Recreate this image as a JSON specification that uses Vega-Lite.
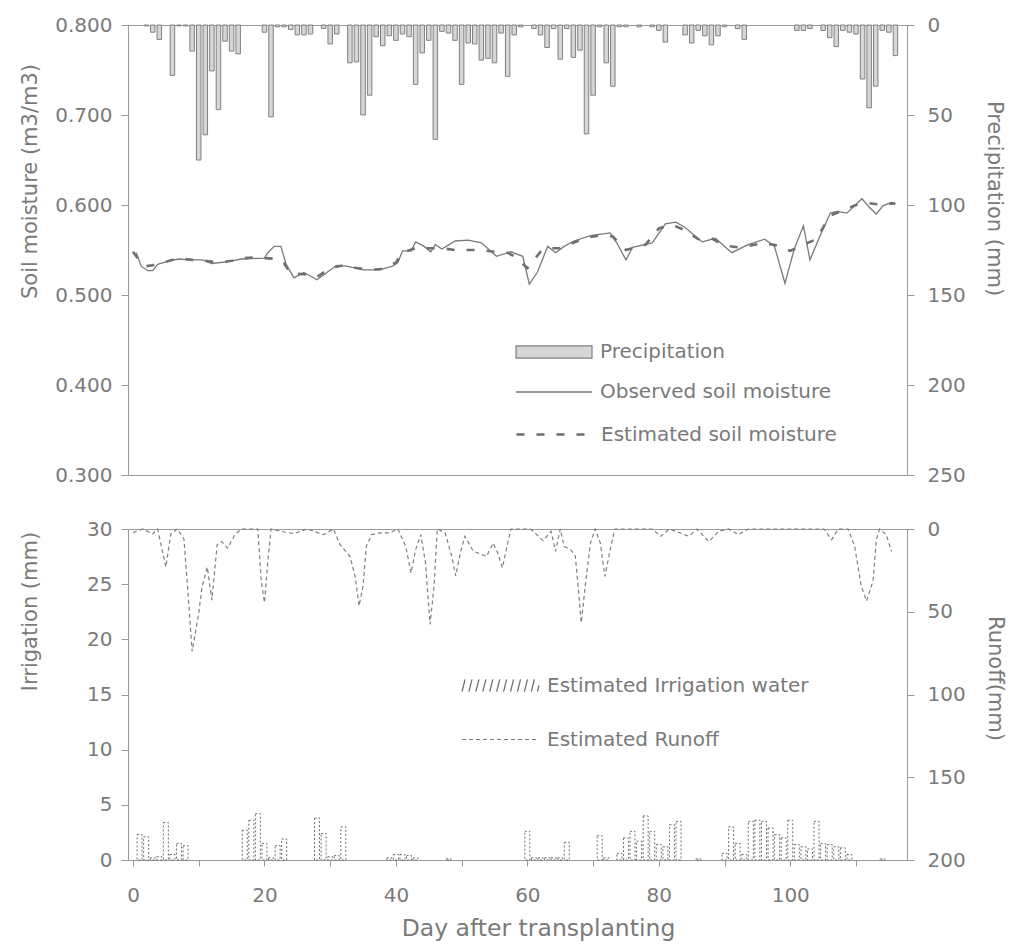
{
  "$schema": "https://vega.github.io/schema/vega-lite/v6.json",
  "background": "white",
  "padding": {"left": 18, "top": 14, "right": 5, "bottom": 5},
  "bounds": "flush",
  "spacing": 54,
  "config": {
    "font": "DejaVu Sans",
    "view": {"stroke": "#9a9a9a", "strokeWidth": 1},
    "axis": {"domainColor": "#9a9a9a", "tickColor": "#9a9a9a", "labelColor": "#7a7a7a", "titleColor": "#7a7a7a", "labelFont": "DejaVu Sans", "titleFont": "DejaVu Sans", "labelFontSize": 20, "titleFontSize": 21, "titleFontWeight": "normal", "grid": false, "tickSize": 7},
    "axisLeft": {"labelPadding": 9},
    "axisRight": {"labelPadding": 13},
    "axisBottom": {"labelPadding": 19, "tickSize": 6},
    "legend": {"orient": "none", "padding": 0, "labelFont": "DejaVu Sans", "labelFontSize": 20, "labelColor": "#7a7a7a", "labelOffset": 7, "labelLimit": 400, "title": null}
  },
  "resolve": {"scale": {"fill": "independent", "stroke": "independent", "strokeDash": "independent"}, "legend": {"fill": "independent", "stroke": "independent", "strokeDash": "independent"}},
  "datasets": {
    "precip": [
      {"day": 2, "mm": 0.5}, {"day": 3, "mm": 4}, {"day": 4, "mm": 8}, {"day": 6, "mm": 28}, {"day": 7, "mm": 0.5}, {"day": 8, "mm": 0.5}, {"day": 9, "mm": 14.5}, {"day": 10, "mm": 75}, {"day": 11, "mm": 61}, {"day": 12, "mm": 25.5}, {"day": 13, "mm": 47}, {"day": 14, "mm": 9}, {"day": 15, "mm": 14.5}, {"day": 16, "mm": 16},
      {"day": 20, "mm": 4}, {"day": 21, "mm": 51}, {"day": 22, "mm": 1}, {"day": 23, "mm": 1}, {"day": 24, "mm": 2.5}, {"day": 25, "mm": 5.5}, {"day": 26, "mm": 5.5}, {"day": 27, "mm": 5}, {"day": 29, "mm": 2}, {"day": 30, "mm": 10.5}, {"day": 31, "mm": 5},
      {"day": 33, "mm": 21}, {"day": 34, "mm": 20.5}, {"day": 35, "mm": 50}, {"day": 36, "mm": 39}, {"day": 37, "mm": 6.5}, {"day": 38, "mm": 11.5}, {"day": 39, "mm": 6}, {"day": 40, "mm": 8.5}, {"day": 41, "mm": 5}, {"day": 42, "mm": 6.5}, {"day": 43, "mm": 33}, {"day": 44, "mm": 15.5}, {"day": 45, "mm": 8.5}, {"day": 46, "mm": 63.5}, {"day": 47, "mm": 3.5}, {"day": 48, "mm": 4.5}, {"day": 49, "mm": 8.5}, {"day": 50, "mm": 33}, {"day": 51, "mm": 10}, {"day": 52, "mm": 10.5}, {"day": 53, "mm": 19.5}, {"day": 54, "mm": 18.5}, {"day": 55, "mm": 21}, {"day": 56, "mm": 4.5}, {"day": 57, "mm": 28.5}, {"day": 58, "mm": 5.5}, {"day": 59, "mm": 1},
      {"day": 61, "mm": 2}, {"day": 62, "mm": 5.5}, {"day": 63, "mm": 12.5}, {"day": 64, "mm": 2}, {"day": 65, "mm": 19}, {"day": 66, "mm": 2}, {"day": 67, "mm": 18}, {"day": 68, "mm": 14}, {"day": 69, "mm": 60.5}, {"day": 70, "mm": 39}, {"day": 71, "mm": 1}, {"day": 72, "mm": 21}, {"day": 73, "mm": 34}, {"day": 74, "mm": 1}, {"day": 75, "mm": 1}, {"day": 77, "mm": 1}, {"day": 79, "mm": 1}, {"day": 80, "mm": 3}, {"day": 81, "mm": 9.5},
      {"day": 84, "mm": 5.5}, {"day": 85, "mm": 10}, {"day": 86, "mm": 3}, {"day": 87, "mm": 6}, {"day": 88, "mm": 11}, {"day": 89, "mm": 6}, {"day": 90, "mm": 1}, {"day": 92, "mm": 2}, {"day": 93, "mm": 8},
      {"day": 101, "mm": 3}, {"day": 102, "mm": 3}, {"day": 103, "mm": 2}, {"day": 105, "mm": 3}, {"day": 106, "mm": 7}, {"day": 107, "mm": 12}, {"day": 108, "mm": 3}, {"day": 109, "mm": 4}, {"day": 110, "mm": 5}, {"day": 111, "mm": 30}, {"day": 112, "mm": 46}, {"day": 113, "mm": 34}, {"day": 114, "mm": 3}, {"day": 115, "mm": 4}, {"day": 116, "mm": 17}
    ],
    "obs": [
      {"day": 0.5, "sm": 0.547}, {"day": 1.25, "sm": 0.532}, {"day": 2.25, "sm": 0.527}, {"day": 3, "sm": 0.527}, {"day": 3.75, "sm": 0.534}, {"day": 5.5, "sm": 0.538}, {"day": 7, "sm": 0.54}, {"day": 8.5, "sm": 0.539}, {"day": 10.5, "sm": 0.539}, {"day": 12, "sm": 0.535}, {"day": 14.5, "sm": 0.537}, {"day": 16.5, "sm": 0.54}, {"day": 20, "sm": 0.541}, {"day": 20.5, "sm": 0.547}, {"day": 21.5, "sm": 0.554}, {"day": 22.5, "sm": 0.554}, {"day": 23.3, "sm": 0.534}, {"day": 24.5, "sm": 0.519}, {"day": 26, "sm": 0.525}, {"day": 28, "sm": 0.517}, {"day": 29.5, "sm": 0.525}, {"day": 31, "sm": 0.533}, {"day": 32.5, "sm": 0.532}, {"day": 35, "sm": 0.528}, {"day": 37.5, "sm": 0.528}, {"day": 39.5, "sm": 0.532}, {"day": 40.3, "sm": 0.536}, {"day": 41, "sm": 0.549}, {"day": 42.3, "sm": 0.549}, {"day": 43, "sm": 0.559}, {"day": 44.3, "sm": 0.554}, {"day": 45.3, "sm": 0.548}, {"day": 46, "sm": 0.556}, {"day": 47, "sm": 0.551}, {"day": 49, "sm": 0.56}, {"day": 51, "sm": 0.561}, {"day": 53, "sm": 0.558}, {"day": 55.3, "sm": 0.543}, {"day": 57.5, "sm": 0.548}, {"day": 59.3, "sm": 0.543}, {"day": 60.3, "sm": 0.512}, {"day": 61.5, "sm": 0.525}, {"day": 63.1, "sm": 0.554}, {"day": 64.3, "sm": 0.547}, {"day": 65.6, "sm": 0.554}, {"day": 67.1, "sm": 0.56}, {"day": 69.6, "sm": 0.566}, {"day": 72.6, "sm": 0.569}, {"day": 73.6, "sm": 0.558}, {"day": 75, "sm": 0.539}, {"day": 76, "sm": 0.553}, {"day": 79, "sm": 0.558}, {"day": 81, "sm": 0.579}, {"day": 82.6, "sm": 0.581}, {"day": 84, "sm": 0.575}, {"day": 86.6, "sm": 0.559}, {"day": 88.6, "sm": 0.563}, {"day": 91.1, "sm": 0.547}, {"day": 93.6, "sm": 0.556}, {"day": 96.1, "sm": 0.562}, {"day": 97.6, "sm": 0.554}, {"day": 99.2, "sm": 0.513}, {"day": 100.6, "sm": 0.551}, {"day": 102, "sm": 0.577}, {"day": 103, "sm": 0.539}, {"day": 104.6, "sm": 0.567}, {"day": 106.1, "sm": 0.591}, {"day": 107.1, "sm": 0.593}, {"day": 108.6, "sm": 0.591}, {"day": 110.9, "sm": 0.607}, {"day": 112.1, "sm": 0.597}, {"day": 113.1, "sm": 0.59}, {"day": 114.1, "sm": 0.599}, {"day": 115.4, "sm": 0.603}, {"day": 115.9, "sm": 0.6}
    ],
    "est": [
      {"day": 0, "sm": 0.548}, {"day": 1, "sm": 0.538}, {"day": 2, "sm": 0.532}, {"day": 3, "sm": 0.533}, {"day": 5, "sm": 0.537}, {"day": 7, "sm": 0.541}, {"day": 9, "sm": 0.539}, {"day": 11, "sm": 0.538}, {"day": 13, "sm": 0.536}, {"day": 15, "sm": 0.538}, {"day": 17, "sm": 0.541}, {"day": 19, "sm": 0.542}, {"day": 20, "sm": 0.541}, {"day": 22, "sm": 0.54}, {"day": 23, "sm": 0.535}, {"day": 24, "sm": 0.524}, {"day": 26, "sm": 0.523}, {"day": 28, "sm": 0.52}, {"day": 30, "sm": 0.53}, {"day": 32, "sm": 0.533}, {"day": 34, "sm": 0.53}, {"day": 36, "sm": 0.528}, {"day": 38, "sm": 0.529}, {"day": 40, "sm": 0.536}, {"day": 41, "sm": 0.547}, {"day": 43, "sm": 0.552}, {"day": 45, "sm": 0.552}, {"day": 47, "sm": 0.552}, {"day": 49, "sm": 0.55}, {"day": 51, "sm": 0.55}, {"day": 53, "sm": 0.55}, {"day": 55, "sm": 0.548}, {"day": 57, "sm": 0.547}, {"day": 58, "sm": 0.543}, {"day": 60, "sm": 0.53}, {"day": 62, "sm": 0.548}, {"day": 63, "sm": 0.552}, {"day": 65, "sm": 0.552}, {"day": 67, "sm": 0.558}, {"day": 69, "sm": 0.564}, {"day": 71, "sm": 0.566}, {"day": 73, "sm": 0.565}, {"day": 75, "sm": 0.55}, {"day": 76, "sm": 0.552}, {"day": 78, "sm": 0.556}, {"day": 80, "sm": 0.574}, {"day": 82, "sm": 0.578}, {"day": 84, "sm": 0.572}, {"day": 86, "sm": 0.562}, {"day": 88, "sm": 0.563}, {"day": 90, "sm": 0.555}, {"day": 92, "sm": 0.553}, {"day": 94, "sm": 0.555}, {"day": 96, "sm": 0.558}, {"day": 98, "sm": 0.555}, {"day": 100, "sm": 0.549}, {"day": 102, "sm": 0.556}, {"day": 104, "sm": 0.562}, {"day": 106, "sm": 0.588}, {"day": 108, "sm": 0.594}, {"day": 110, "sm": 0.6}, {"day": 112, "sm": 0.602}, {"day": 114, "sm": 0.6}, {"day": 116, "sm": 0.602}
    ],
    "irr": [
      {"day": 1, "mm": 2.3}, {"day": 2, "mm": 2.1}, {"day": 3, "mm": 0.2}, {"day": 4, "mm": 0.3}, {"day": 5, "mm": 3.4}, {"day": 6, "mm": 0.5}, {"day": 7, "mm": 1.5}, {"day": 8, "mm": 1.3},
      {"day": 17, "mm": 2.7}, {"day": 18, "mm": 3.6}, {"day": 19, "mm": 4.2}, {"day": 20, "mm": 1.5}, {"day": 21, "mm": 0.2}, {"day": 22, "mm": 1.3}, {"day": 23, "mm": 1.9},
      {"day": 28, "mm": 3.8}, {"day": 29, "mm": 2.4}, {"day": 30, "mm": 0.3}, {"day": 31, "mm": 0.4}, {"day": 32, "mm": 3.0},
      {"day": 39, "mm": 0.2}, {"day": 40, "mm": 0.5}, {"day": 41, "mm": 0.5}, {"day": 42, "mm": 0.4}, {"day": 43, "mm": 0.2}, {"day": 48, "mm": 0.1},
      {"day": 60, "mm": 2.6}, {"day": 61, "mm": 0.2}, {"day": 62, "mm": 0.2}, {"day": 63, "mm": 0.2}, {"day": 64, "mm": 0.2}, {"day": 65, "mm": 0.2}, {"day": 66, "mm": 1.6}, {"day": 71, "mm": 2.2}, {"day": 72, "mm": 0.2},
      {"day": 74, "mm": 0.6}, {"day": 75, "mm": 2.0}, {"day": 76, "mm": 2.6}, {"day": 77, "mm": 1.7}, {"day": 78, "mm": 4.0}, {"day": 79, "mm": 2.6}, {"day": 80, "mm": 1.4}, {"day": 81, "mm": 1.2}, {"day": 82, "mm": 3.2}, {"day": 83, "mm": 3.5}, {"day": 86, "mm": 0.1},
      {"day": 90, "mm": 0.6}, {"day": 91, "mm": 3.0}, {"day": 92, "mm": 1.5}, {"day": 93, "mm": 0.5}, {"day": 94, "mm": 3.5}, {"day": 95, "mm": 3.6}, {"day": 96, "mm": 3.5}, {"day": 97, "mm": 2.9}, {"day": 98, "mm": 2.3}, {"day": 99, "mm": 2.0}, {"day": 100, "mm": 3.6}, {"day": 101, "mm": 1.4}, {"day": 102, "mm": 1.2}, {"day": 103, "mm": 1.0}, {"day": 104, "mm": 3.5}, {"day": 105, "mm": 1.5}, {"day": 106, "mm": 1.4}, {"day": 107, "mm": 1.2}, {"day": 108, "mm": 1.1}, {"day": 109, "mm": 0.5}, {"day": 114, "mm": 0.1}
    ],
    "runoff": [
      {"day": 0, "mm": 2}, {"day": 1.5, "mm": 0}, {"day": 3, "mm": 3}, {"day": 3.75, "mm": 0}, {"day": 5, "mm": 23}, {"day": 5.75, "mm": 3}, {"day": 6.75, "mm": 0}, {"day": 7.75, "mm": 6}, {"day": 8.3, "mm": 35}, {"day": 9, "mm": 74}, {"day": 10, "mm": 51}, {"day": 10.5, "mm": 35}, {"day": 11.3, "mm": 23}, {"day": 12, "mm": 43}, {"day": 12.8, "mm": 9.5}, {"day": 13.5, "mm": 7.6}, {"day": 14.4, "mm": 11.6}, {"day": 15.5, "mm": 3.4}, {"day": 16.5, "mm": 0},
      {"day": 19, "mm": 0}, {"day": 19.5, "mm": 31}, {"day": 20, "mm": 44.5}, {"day": 20.5, "mm": 20.5}, {"day": 21, "mm": 0}, {"day": 22.5, "mm": 1.4}, {"day": 24.5, "mm": 2.8}, {"day": 26.5, "mm": 0}, {"day": 29, "mm": 3.4}, {"day": 30.5, "mm": 0}, {"day": 31.5, "mm": 9.5}, {"day": 33, "mm": 16.5}, {"day": 33.8, "mm": 28.6}, {"day": 34.4, "mm": 46.5}, {"day": 35, "mm": 34.6}, {"day": 35.5, "mm": 10.5}, {"day": 36.3, "mm": 3.4}, {"day": 37.5, "mm": 2.4}, {"day": 39, "mm": 2.4}, {"day": 40.3, "mm": 0},
      {"day": 41.5, "mm": 10.5}, {"day": 42.3, "mm": 26.6}, {"day": 43, "mm": 12.5}, {"day": 43.8, "mm": 3.4}, {"day": 44.5, "mm": 20.5}, {"day": 45.2, "mm": 57.6}, {"day": 45.8, "mm": 34.6}, {"day": 46.3, "mm": 0}, {"day": 47.5, "mm": 2.4}, {"day": 48.5, "mm": 16.5}, {"day": 49.1, "mm": 28.4}, {"day": 49.8, "mm": 14.5}, {"day": 50.5, "mm": 4.4}, {"day": 51.8, "mm": 13.5}, {"day": 52.5, "mm": 14.5}, {"day": 53.8, "mm": 16.5}, {"day": 54.8, "mm": 8.5}, {"day": 55.5, "mm": 14.5}, {"day": 56.2, "mm": 23.4}, {"day": 56.8, "mm": 12.5}, {"day": 57.5, "mm": 0},
      {"day": 60.5, "mm": 0}, {"day": 62.4, "mm": 7}, {"day": 63.6, "mm": 1.4}, {"day": 64.3, "mm": 13.5}, {"day": 65, "mm": 0}, {"day": 65.6, "mm": 10.5}, {"day": 66.6, "mm": 12.5}, {"day": 67.3, "mm": 16.5}, {"day": 67.8, "mm": 38.5}, {"day": 68.2, "mm": 56.6}, {"day": 68.8, "mm": 34.6}, {"day": 69.6, "mm": 8.5}, {"day": 70.3, "mm": 0}, {"day": 71.1, "mm": 8.5}, {"day": 71.8, "mm": 28.6}, {"day": 72.6, "mm": 12.5}, {"day": 73.3, "mm": 0},
      {"day": 79, "mm": 0}, {"day": 80.3, "mm": 4.4}, {"day": 81.6, "mm": 0}, {"day": 84.6, "mm": 4.4}, {"day": 85.8, "mm": 0}, {"day": 87.6, "mm": 7.6}, {"day": 89.1, "mm": 1.4}, {"day": 90.6, "mm": 0}, {"day": 92.1, "mm": 3.4}, {"day": 93.6, "mm": 0}, {"day": 105.1, "mm": 0}, {"day": 106.3, "mm": 6.4}, {"day": 107.3, "mm": 0}, {"day": 108.8, "mm": 0}, {"day": 109.8, "mm": 10.5}, {"day": 110.8, "mm": 34.6}, {"day": 111.6, "mm": 43.5}, {"day": 112.6, "mm": 31.4}, {"day": 113.1, "mm": 6.4}, {"day": 113.6, "mm": 0}, {"day": 114.6, "mm": 3.4}, {"day": 115.4, "mm": 13.5}
    ]
  },
  "vconcat": [
    {
      "width": 779,
      "height": 450,
      "layer": [
        {
          "data": {"name": "precip"},
          "mark": {"type": "bar", "size": 4.5, "stroke": "#808080", "strokeWidth": 1},
          "encoding": {
            "x": {"field": "day", "type": "quantitative", "scale": {"domain": [0, 117], "nice": false}, "axis": null},
            "y": {"field": "mm", "type": "quantitative", "scale": {"domain": [0, 250], "reverse": true, "nice": false}, "axis": {"orient": "right", "values": [0, 50, 100, 150, 200, 250], "title": "Precipitation (mm)", "labelPadding": 13, "titleX": 76, "titleY": 173}},
            "fill": {"datum": "Precipitation", "scale": {"range": ["#d6d6d6"]}, "legend": {"legendX": 387, "legendY": 288, "symbolType": "M-1,-0.16H1V0.16H-1Z", "symbolSize": 5776, "symbolStrokeColor": "#808080", "symbolStrokeWidth": 1.2}}
          }
        },
        {
          "layer": [
            {
              "data": {"name": "obs"},
              "mark": {"type": "line", "strokeWidth": 1.3},
              "encoding": {
                "x": {"field": "day", "type": "quantitative"},
                "y": {"field": "sm", "type": "quantitative", "scale": {"domain": [0.3, 0.8], "nice": false, "zero": false}, "axis": {"orient": "left", "values": [0.3, 0.4, 0.5, 0.6, 0.7, 0.8], "format": ".3f", "title": "Soil moisture (m3/m3)", "labelPadding": 9, "titleX": -88, "titleY": 156}},
                "stroke": {"datum": "Observed soil moisture", "scale": {"range": ["#7a7a7a"]}, "legend": {"legendX": 387, "legendY": 328, "symbolType": "stroke", "symbolSize": 5776, "symbolStrokeColor": "#7a7a7a", "symbolStrokeWidth": 1.3}}
              }
            },
            {
              "data": {"name": "est"},
              "mark": {"type": "line", "stroke": "#707070", "strokeWidth": 2.6},
              "encoding": {
                "x": {"field": "day", "type": "quantitative"},
                "y": {"field": "sm", "type": "quantitative"},
                "strokeDash": {"datum": "Estimated soil moisture", "scale": {"range": [[8, 12]]}, "legend": {"legendX": 387, "legendY": 370, "symbolType": "stroke", "symbolSize": 5776, "symbolStrokeColor": "#707070", "symbolStrokeWidth": 2.6}}
              }
            }
          ]
        }
      ],
      "resolve": {"scale": {"y": "independent"}}
    },
    {
      "width": 779,
      "height": 331,
      "layer": [
        {
          "data": {"name": "irr"},
          "mark": {"type": "bar", "size": 5, "fill": "white", "strokeWidth": 1, "strokeDash": [2, 2]},
          "encoding": {
            "x": {"field": "day", "type": "quantitative", "scale": {"domain": [0, 117], "nice": false}, "axis": {"values": [0, 10, 20, 30, 40, 50, 60, 70, 80, 90, 100, 110], "labelExpr": "datum.value % 20 === 0 ? datum.label : ''", "tickSize": 6, "labelPadding": 19, "title": "Day after transplanting", "titleFontSize": 23.5, "titleX": 410, "titleY": 56}},
            "y": {"field": "mm", "type": "quantitative", "scale": {"domain": [0, 30], "nice": false}, "axis": {"orient": "left", "values": [0, 5, 10, 15, 20, 25, 30], "title": "Irrigation (mm)", "labelPadding": 9, "titleX": -88, "titleY": 82}},
            "stroke": {"datum": "Estimated Irrigation water", "scale": {"range": ["#707070"]}, "legend": {"legendX": 333, "legendY": 117, "symbolType": "M-1,0.16L-0.92,-0.16M-0.82,0.16L-0.74,-0.16M-0.64,0.16L-0.56,-0.16M-0.46,0.16L-0.38,-0.16M-0.28,0.16L-0.2,-0.16M-0.1,0.16L-0.02,-0.16M0.08,0.16L0.16,-0.16M0.26,0.16L0.34,-0.16M0.44,0.16L0.52,-0.16M0.62,0.16L0.7,-0.16M0.8,0.16L0.88,-0.16M0.96,0.16L1,0", "symbolSize": 5929, "symbolFillColor": "transparent", "symbolStrokeColor": "#707070", "symbolStrokeWidth": 1.3}}
          }
        },
        {
          "data": {"name": "runoff"},
          "mark": {"type": "line", "stroke": "#808080", "strokeWidth": 1.2},
          "encoding": {
            "x": {"field": "day", "type": "quantitative"},
            "y": {"field": "mm", "type": "quantitative", "scale": {"domain": [0, 200], "reverse": true, "nice": false}, "axis": {"orient": "right", "values": [0, 50, 100, 150, 200], "title": "Runoff(mm)", "labelPadding": 13, "titleX": 77, "titleY": 149}},
            "strokeDash": {"datum": "Estimated Runoff", "scale": {"range": [[4, 3]]}, "legend": {"legendX": 333, "legendY": 171, "symbolType": "stroke", "symbolSize": 5929, "symbolStrokeColor": "#808080", "symbolStrokeWidth": 1.2}}
          }
        }
      ],
      "resolve": {"scale": {"y": "independent"}}
    }
  ]
}
